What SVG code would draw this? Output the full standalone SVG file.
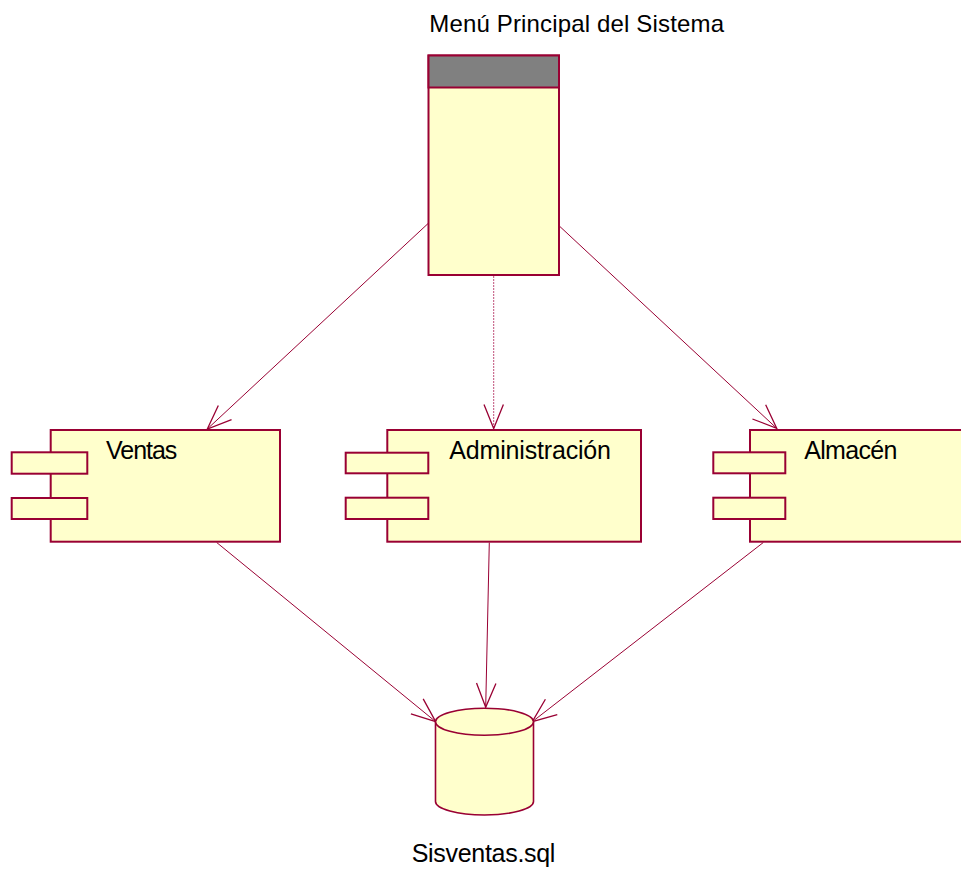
<svg xmlns="http://www.w3.org/2000/svg" width="961" height="870" viewBox="0 0 961 870">
  <style>
    .box { fill: #ffffcc; stroke: #990033; stroke-width: 2; }
    .hdr { fill: #808080; stroke: #990033; stroke-width: 2; }
    .cyl { fill: #ffffcc; stroke: #990033; stroke-width: 1.6; }
    .lbl { font-family: "Liberation Sans", Arial, sans-serif; font-size: 25px; fill: #000; }
    .title { font-family: "Liberation Sans", Arial, sans-serif; font-size: 24px; fill: #000; }
    .conn { fill: none; stroke: #990033; stroke-width: 1; marker-end: url(#open); }
    .dotted { stroke: #c0507a; stroke-dasharray: 2 1; }
  </style>
  <defs>
    <marker id="open" markerUnits="userSpaceOnUse" orient="auto" viewBox="-27 -12 29 24" refX="0" refY="0" markerWidth="29" markerHeight="24" overflow="visible">
      <path d="M-24.1,-9.7 L0,0 L-24.1,9.7" fill="none" stroke="#990033" stroke-width="1.3"/>
    </marker>
  </defs>
  <rect width="961" height="870" fill="#ffffff"/>

  <g id="connectors">
    <path class="conn" d="M428.3,223.3 L207.3,429"/>
    <path class="conn dotted" d="M493.7,276 L493.7,428.5"/>
    <path class="conn" d="M559,225.7 L776.7,428.3"/>
    <path class="conn" d="M216.7,542.5 L435.7,721.7"/>
    <path class="conn" d="M489.3,542.5 L485.7,707.3"/>
    <path class="conn" d="M763.3,542.5 L532.3,721.7"/>
  </g>

  <g id="menu">
    <rect class="box" x="428.5" y="55.5" width="130.5" height="219.5"/>
    <rect class="hdr" x="428.5" y="55.5" width="130.5" height="32"/>
    <text class="title" x="429.3" y="32" textLength="294.7">Menú Principal del Sistema</text>
  </g>

  <g id="ventas">
    <rect class="box" x="50.7" y="430" width="229.3" height="111.7"/>
    <rect class="box" x="11.7" y="452.3" width="75.6" height="21.4"/>
    <rect class="box" x="11.7" y="498" width="75.6" height="21"/>
    <text class="lbl" x="106" y="459.3" textLength="71.3">Ventas</text>
  </g>

  <g id="administracion">
    <rect class="box" x="387.3" y="430" width="253.7" height="111.7"/>
    <rect class="box" x="345.7" y="452.7" width="82.6" height="20.6"/>
    <rect class="box" x="345.7" y="497.7" width="82.6" height="21.3"/>
    <text class="lbl" x="449.3" y="458.5" textLength="161.7">Administración</text>
  </g>

  <g id="almacen">
    <rect class="box" x="750" y="430" width="220" height="111.7"/>
    <rect class="box" x="713.3" y="452.3" width="72" height="21"/>
    <rect class="box" x="713.3" y="497.7" width="72" height="21.3"/>
    <text class="lbl" x="804.3" y="459" textLength="93">Almacén</text>
  </g>

  <g id="sisventas">
    <path class="cyl" d="M435.5,721.7 L435.5,801.5 A49,13.5 0 0 0 533.5,801.5 L533.5,721.7"/>
    <ellipse class="cyl" cx="484.5" cy="721.7" rx="49" ry="13.5"/>
    <text class="lbl" x="411.7" y="861.7" textLength="143.7">Sisventas.sql</text>
  </g>
</svg>
